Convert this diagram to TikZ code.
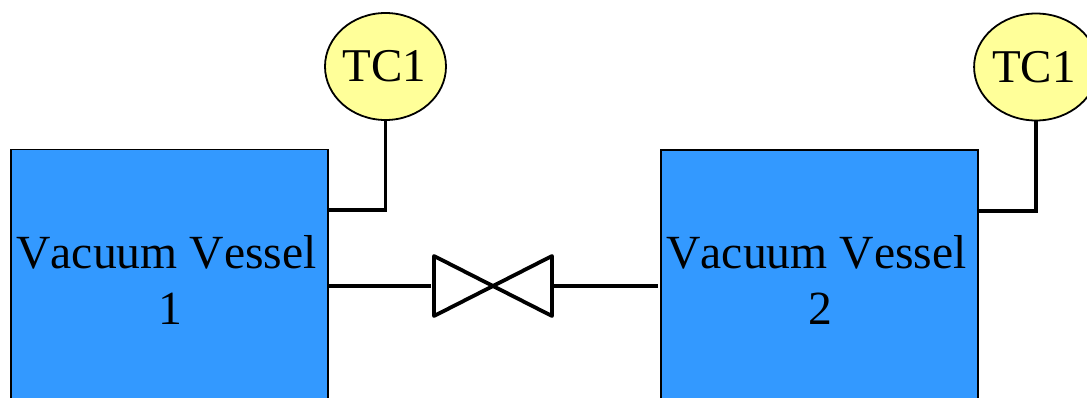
\documentclass[tikz,border=0pt]{standalone}
\usepackage{fontspec}
\setmainfont[Kerning=Off]{Liberation Serif}
\usepackage{tikz}
\usetikzlibrary{shapes}
\usepackage{xcolor}
\definecolor{vesselblue}{HTML}{3399FF}
\definecolor{gaugeyellow}{HTML}{FFFF99}

\begin{document}
\begin{tikzpicture}[x=1pt,y=-1pt]
      \tikzstyle{vessel}=[rectangle,draw,line width=1.8pt,fill=vesselblue,minimum width=317pt,minimum height=260pt,inner sep=0pt,align=center,font=\fontsize{47.6}{56}\selectfont]
      \tikzstyle{gauge}=[ellipse,draw,line width=1.8pt,fill=gaugeyellow,minimum width=121pt,minimum height=107pt,inner sep=0pt,font=\fontsize{47}{56}\selectfont]
      \tikzstyle{valve}=[rectangle,minimum width=118pt,minimum height=60pt,inner sep=0pt,outer sep=0pt]
      \tikzstyle{wire}=[line width=3.8pt]
      \useasboundingbox (0,0) rectangle (1087,398);
      \clip (0,0) rectangle (1087,398);
      \node[vessel] (vessel1) at (169.5,279.5) {Vacuum Vessel\kern6pt\\\kern1pt 1};
      \node[vessel] (vessel2) at (819.5,280) {Vacuum Vessel\kern6pt\\\kern1pt 2};
      \node[gauge] (gauge1) at (385.5,66.5) {TC1\kern2pt};
      \node[gauge] (gauge2) at (1036,67) {TC1\kern4pt};
      \node[valve] (valve1) at (493,286) {};
      \coordinate (tap1) at (328,210);
      \coordinate (tap2) at (978,211);
      \draw[wire] (gauge1.south) |- (tap1);
      \draw[wire] (gauge2.south) |- (tap2);
      \draw[wire] (vessel1.east |- valve1.west) -- ([xshift=-3pt]valve1.west);
      \draw[wire] ([xshift=2pt]valve1.east) -- ([xshift=-2pt]vessel2.west |- valve1.east);
      \draw[wire,line join=round] (valve1.north west) -- (valve1.south east) -- (valve1.north east) -- (valve1.south west) -- cycle;
\end{tikzpicture}
\end{document}
